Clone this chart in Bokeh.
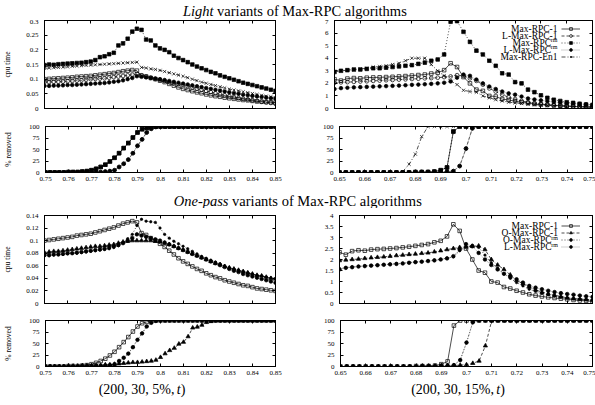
from bokeh.plotting import figure
from bokeh.models import (Range1d, FixedTicker, LinearAxis, CustomJSTickFormatter,
                          Legend, LegendItem, Label)
from bokeh.layouts import column, row
from bokeh.embed import file_html
from bokeh.resources import INLINE

FONT = "Liberation Serif"

# ---------------- data ----------------
t_5 = [round(0.75 + 0.002 * i, 4) for i in range(51)]
t_15 = [round(0.65 + 0.0025 * k, 4) for k in range(41)]

x_ticks_5 = [0.75, 0.76, 0.77, 0.78, 0.79, 0.80, 0.81, 0.82, 0.83, 0.84, 0.85]
x_ticks_15 = [0.65, 0.66, 0.67, 0.68, 0.69, 0.70, 0.71, 0.72, 0.73, 0.74, 0.75]
y_ticks_light5 = [0, 0.05, 0.1, 0.15, 0.2, 0.25, 0.3]
y_ticks_light15 = [0, 1, 2, 3, 4, 5, 6, 7]
y_ticks_one5 = [0, 0.02, 0.04, 0.06, 0.08, 0.1, 0.12, 0.14]
y_ticks_one15 = [0, 0.5, 1, 1.5, 2, 2.5, 3, 3.5, 4]
y_ticks_pct = [0, 25, 50, 75, 100]

# cpu time, (200,30,5%,t)
max1_5 = [0.100, 0.101, 0.102, 0.103, 0.104, 0.105, 0.106, 0.108, 0.109, 0.110, 0.111,
          0.113, 0.115, 0.117, 0.119, 0.121, 0.124, 0.127, 0.129, 0.131, 0.129,
          0.112, 0.109, 0.104, 0.100, 0.095, 0.090, 0.084, 0.078, 0.072, 0.067,
          0.063, 0.059, 0.055, 0.052, 0.048, 0.045, 0.042, 0.040, 0.037, 0.035,
          0.033, 0.031, 0.029, 0.028, 0.026, 0.024, 0.023, 0.022, 0.021, 0.020]
l1_5 = [0.090, 0.090, 0.091, 0.091, 0.092, 0.093, 0.094, 0.095, 0.096, 0.098, 0.100,
        0.101, 0.102, 0.103, 0.105, 0.107, 0.109, 0.111, 0.113, 0.115, 0.118,
        0.113, 0.109, 0.105, 0.101, 0.097, 0.094, 0.090, 0.087, 0.083, 0.080,
        0.076, 0.072, 0.068, 0.064, 0.060, 0.056, 0.052, 0.049, 0.045, 0.042,
        0.039, 0.036, 0.033, 0.031, 0.028, 0.026, 0.023, 0.021, 0.019, 0.016]
rm_5 = [0.148, 0.150, 0.149, 0.151, 0.152, 0.153, 0.154, 0.155, 0.156, 0.158, 0.160,
        0.165, 0.175, 0.178, 0.185, 0.190, 0.215, 0.222, 0.238, 0.262, 0.272,
        0.268, 0.235, 0.232, 0.215, 0.205, 0.200, 0.192, 0.180, 0.172, 0.165,
        0.158, 0.150, 0.143, 0.137, 0.131, 0.125, 0.120, 0.113, 0.108, 0.103,
        0.098, 0.093, 0.088, 0.084, 0.080, 0.076, 0.072, 0.068, 0.064, 0.060]
lrm_5 = [0.077, 0.077, 0.078, 0.078, 0.079, 0.080, 0.080, 0.081, 0.082, 0.083, 0.084,
         0.085, 0.086, 0.087, 0.089, 0.091, 0.093, 0.096, 0.100, 0.104, 0.110,
         0.108, 0.106, 0.104, 0.102, 0.100, 0.097, 0.094, 0.091, 0.088, 0.085,
         0.082, 0.079, 0.076, 0.073, 0.070, 0.067, 0.064, 0.061, 0.058, 0.055,
         0.052, 0.050, 0.047, 0.045, 0.043, 0.041, 0.039, 0.037, 0.035, 0.033]
en1_5 = [0.137, 0.138, 0.139, 0.140, 0.141, 0.142, 0.144, 0.145, 0.146, 0.147, 0.148,
         0.149, 0.150, 0.151, 0.152, 0.153, 0.154, 0.155, 0.156, 0.157, 0.158,
         0.140, 0.138, 0.135, 0.133, 0.130, 0.126, 0.122, 0.118, 0.114, 0.110,
         0.105, 0.100, 0.095, 0.090, 0.086, 0.082, 0.078, 0.074, 0.070, 0.066,
         0.063, 0.060, 0.057, 0.054, 0.051, 0.048, 0.045, 0.042, 0.040, 0.037]
o1_5 = [0.081, 0.082, 0.083, 0.083, 0.084, 0.085, 0.086, 0.087, 0.088, 0.089, 0.090,
        0.091, 0.091, 0.092, 0.093, 0.094, 0.096, 0.098, 0.099, 0.100, 0.100,
        0.100, 0.100, 0.100, 0.099, 0.098, 0.096, 0.094, 0.091, 0.088, 0.085,
        0.082, 0.079, 0.076, 0.073, 0.070, 0.067, 0.064, 0.062, 0.059, 0.057,
        0.055, 0.053, 0.051, 0.049, 0.047, 0.045, 0.044, 0.042, 0.040, 0.039]
orm_5 = [0.076, 0.076, 0.077, 0.078, 0.078, 0.079, 0.080, 0.080, 0.081, 0.082, 0.083,
         0.084, 0.085, 0.086, 0.087, 0.089, 0.092, 0.097, 0.103, 0.110, 0.124,
         0.134, 0.131, 0.130, 0.129, 0.120, 0.110, 0.104, 0.099, 0.095, 0.091,
         0.087, 0.083, 0.079, 0.075, 0.072, 0.069, 0.066, 0.063, 0.060, 0.057,
         0.055, 0.053, 0.051, 0.049, 0.047, 0.045, 0.044, 0.042, 0.041, 0.040]

# % removed, (200,30,5%,t)
pct_max_5 = [0, 0, 0, 0, 0, 1, 1, 1, 2, 3, 5,
             8, 12, 17, 24, 32, 42, 53, 64, 76, 87,
             94, 97, 99, 100, 100, 100, 100, 100, 100, 100,
             100, 100, 100, 100, 100, 100, 100, 100, 100, 100,
             100, 100, 100, 100, 100, 100, 100, 100, 100, 100]
pct_light_5 = [0, 0, 0, 0, 0, 0, 0, 0, 1, 1, 1,
               1, 1, 2, 3, 5, 12, 19, 28, 42, 58,
               72, 87, 95, 99, 100, 100, 100, 100, 100, 100,
               100, 100, 100, 100, 100, 100, 100, 100, 100, 100,
               100, 100, 100, 100, 100, 100, 100, 100, 100, 100]
pct_o1_5 = [0, 0, 0, 0, 0, 1, 1, 1, 2, 2, 2,
            3, 3, 4, 4, 5, 6, 7, 8, 9, 9,
            10, 11, 12, 14, 20, 28, 35, 40, 49, 53,
            65, 84, 86, 90, 96, 98, 100, 100, 100, 100,
            100, 100, 100, 100, 100, 100, 100, 100, 100, 100]

# cpu time, (200,30,15%,t)
max1_15 = [2.33, 2.22, 2.38, 2.42, 2.40, 2.45, 2.47, 2.48, 2.50, 2.52, 2.55,
           2.58, 2.62, 2.66, 2.70, 2.78, 2.85, 3.05, 3.60, 3.30, 2.50,
           2.00, 1.50, 1.40, 1.00, 0.95, 0.75, 0.68, 0.58, 0.50, 0.42,
           0.36, 0.32, 0.28, 0.25, 0.22, 0.19, 0.16, 0.14, 0.12, 0.10]
l1_15 = [2.05, 2.08, 2.10, 2.12, 2.15, 2.17, 2.20, 2.22, 2.25, 2.27, 2.30,
         2.32, 2.35, 2.37, 2.40, 2.42, 2.45, 2.50, 2.55, 2.65, 2.60,
         2.40, 2.20, 1.90, 1.60, 1.35, 1.10, 0.90, 0.75, 0.60, 0.50,
         0.42, 0.36, 0.30, 0.26, 0.22, 0.20, 0.17, 0.15, 0.13, 0.12]
rm_15 = [2.90, 3.00, 3.05, 3.10, 3.10, 3.15, 3.20, 3.20, 3.25, 3.30, 3.35,
         3.40, 3.45, 3.55, 3.65, 3.80, 3.90, 4.30, 6.90, 6.95, 6.10,
         5.30, 4.60, 4.30, 3.80, 3.40, 2.80, 2.70, 2.10, 2.00, 1.50,
         1.30, 1.05, 0.85, 0.70, 0.60, 0.50, 0.45, 0.38, 0.32, 0.28]
lrm_15 = [1.55, 1.62, 1.65, 1.68, 1.70, 1.72, 1.74, 1.76, 1.78, 1.80, 1.82,
          1.85, 1.88, 1.90, 1.93, 1.96, 2.00, 2.05, 2.15, 2.45, 2.70,
          2.60, 2.30, 2.00, 1.75, 1.55, 1.35, 1.20, 1.10, 0.95, 0.80,
          0.72, 0.65, 0.58, 0.52, 0.47, 0.43, 0.40, 0.36, 0.33, 0.30]
en1_15 = [2.95, 3.00, 3.05, 3.10, 3.15, 3.20, 3.30, 3.35, 3.40, 3.50, 3.60,
          3.80, 4.00, 4.00, 4.00, 3.50, 3.00, 2.60, 2.20, 1.90, 1.45,
          1.35, 1.30, 1.00, 0.85, 0.70, 0.60, 0.50, 0.45, 0.40, 0.35,
          0.30, 0.28, 0.25, 0.22, 0.20, 0.18, 0.16, 0.15, 0.13, 0.12]
o1_15 = [1.95, 1.98, 2.00, 2.02, 2.05, 2.08, 2.10, 2.12, 2.15, 2.18, 2.20,
         2.23, 2.25, 2.28, 2.30, 2.35, 2.40, 2.45, 2.50, 2.55, 2.57,
         2.60, 2.62, 2.45, 2.00, 1.75, 1.55, 1.30, 1.05, 0.90, 0.75,
         0.62, 0.52, 0.45, 0.38, 0.32, 0.27, 0.23, 0.20, 0.18, 0.16]
orm_15 = [1.58, 1.63, 1.66, 1.69, 1.71, 1.73, 1.75, 1.77, 1.79, 1.81, 1.83,
          1.86, 1.89, 1.91, 1.94, 1.97, 2.01, 2.06, 2.12, 2.40, 2.58,
          2.65, 2.55, 2.20, 1.85, 1.60, 1.35, 1.15, 0.95, 0.80, 0.65,
          0.55, 0.47, 0.40, 0.34, 0.29, 0.25, 0.22, 0.20, 0.18, 0.16]

# % removed, (200,30,15%,t)
pct_max_15 = [0, 0, 0, 0, 0, 0, 0, 0, 0, 0, 0,
              0, 1, 1, 1, 2, 5, 11, 89, 100, 100,
              100, 100, 100, 100, 100, 100, 100, 100, 100, 100,
              100, 100, 100, 100, 100, 100, 100, 100, 100, 100]
pct_en1_15 = [0, 0, 0, 0, 0, 0, 0, 0, 0, 0, 2,
              18, 40, 78, 100, 100, 100, 100, 100, 100, 100,
              100, 100, 100, 100, 100, 100, 100, 100, 100, 100,
              100, 100, 100, 100, 100, 100, 100, 100, 100, 100]
pct_light_15 = [0, 0, 0, 0, 0, 0, 0, 0, 0, 0, 0,
                0, 0, 1, 1, 1, 2, 2, 3, 14, 52,
                96, 100, 100, 100, 100, 100, 100, 100, 100, 100,
                100, 100, 100, 100, 100, 100, 100, 100, 100, 100]
pct_o1_15 = [0, 0, 0, 0, 0, 0, 0, 0, 0, 0, 0,
             0, 0, 1, 1, 1, 1, 2, 2, 3, 4,
             7, 12, 45, 100, 100, 100, 100, 100, 100, 100,
             100, 100, 100, 100, 100, 100, 100, 100, 100, 100]

# ---------------- styles ----------------
STYLE = {
    "Max-RPC-1":    dict(marker="square", size=3.6, fill=None, dash="solid", lc="black"),
    "L-Max-RPC-1":  dict(marker="circle", size=3.8, fill=None, dash="3 2", lc="black"),
    "Max-RPC^rm":   dict(marker="square", size=3.6, fill="black", dash="1 2", lc="black"),
    "L-Max-RPC^rm": dict(marker="circle", size=3.6, fill="black", dash="1 1", lc="#777777"),
    "Max-RPC-En1":  dict(marker="x", size=4.5, fill=None, dash="4 2 1 2", lc="black"),
    "O-Max-RPC-1":  dict(marker="triangle", size=4.2, fill="black", dash="3 2", lc="black"),
    "O-Max-RPC^rm": dict(marker="circle", size=2.4, fill="black", dash="1 2", lc="black"),
}

FMT = "return String(Number(tick.toFixed(3)));"


def style_axis(ax, labels=True, standoff=4):
    ax.axis_line_color = "black"
    ax.axis_line_width = 1
    ax.major_tick_line_color = "black"
    ax.major_tick_in = 3
    ax.major_tick_out = 0
    ax.minor_tick_line_color = None
    ax.major_label_text_font = FONT
    ax.major_label_text_font_size = "7px"
    ax.major_label_text_color = "black"
    ax.major_label_standoff = standoff
    ax.formatter = CustomJSTickFormatter(code=FMT if labels else "return '';")


def panel(xr, yr, xt, yt, w, h, bl, br, bt, bb, xlabels, ylabel=None, al_standoff=10):
    p = figure(width=w, height=h, x_range=Range1d(*xr), y_range=Range1d(*yr),
               output_backend="svg", toolbar_location=None,
               min_border_left=bl, min_border_right=br,
               min_border_top=bt, min_border_bottom=bb)
    p.grid.visible = False
    p.outline_line_color = "black"
    p.outline_line_width = 1
    p.background_fill_color = "white"
    p.border_fill_color = "white"
    xa = p.below[0]
    ya = p.left[0]
    style_axis(xa, labels=xlabels, standoff=4 if xlabels else 0)
    xa.ticker = FixedTicker(ticks=xt)
    style_axis(ya, labels=True, standoff=6)
    ya.ticker = FixedTicker(ticks=yt)
    if ylabel:
        ya.axis_label = ylabel
        ya.axis_label_text_font = FONT
        ya.axis_label_text_font_size = "7.5px"
        ya.axis_label_text_font_style = "normal"
        ya.axis_label_text_color = "black"
        ya.axis_label_standoff = al_standoff
    top = LinearAxis(ticker=FixedTicker(ticks=xt))
    style_axis(top, labels=False, standoff=0)
    right = LinearAxis(ticker=FixedTicker(ticks=yt))
    style_axis(right, labels=False, standoff=0)
    p.add_layout(top, "above")
    p.add_layout(right, "right")
    return p


def draw(p, x, y, key):
    s = STYLE[key]
    lr = p.line(x, y, line_color=s["lc"], line_width=0.7, line_dash=s["dash"])
    sr = p.scatter(x, y, marker=s["marker"], size=s["size"], line_color="black",
                   line_width=0.7, fill_color=s["fill"])
    return [lr, sr]


def add_legend(p, entries, rends, vx, vy, text_x, first_y):
    items = [LegendItem(label="", renderers=r) for r in rends]
    leg = Legend(items=items, location=(vx, vy), glyph_width=19, glyph_height=7,
                 label_width=0, label_height=7, label_standoff=0, padding=0,
                 spacing=0, margin=0, border_line_color=None,
                 background_fill_alpha=0, label_text_font_size="1px")
    p.add_layout(leg)
    for n, (main, sup) in enumerate(entries):
        y = first_y - 7 * n
        if sup:
            p.add_layout(Label(x=text_x - 6.5, y=y, x_units="screen", y_units="screen",
                               text=main, text_align="right", text_baseline="middle",
                               text_font=FONT, text_font_size="9.5px", text_color="black"))
            p.add_layout(Label(x=text_x, y=y + 2.5, x_units="screen", y_units="screen",
                               text=sup, text_align="right", text_baseline="middle",
                               text_font=FONT, text_font_size="6px", text_color="black"))
        else:
            p.add_layout(Label(x=text_x, y=y, x_units="screen", y_units="screen",
                               text=main, text_align="right", text_baseline="middle",
                               text_font=FONT, text_font_size="9.5px", text_color="black"))


def blank(h):
    p = figure(width=595, height=h, x_range=Range1d(0, 595), y_range=Range1d(0, h),
               output_backend="svg", toolbar_location=None,
               min_border_left=0, min_border_right=0, min_border_top=0, min_border_bottom=0,
               x_axis_location=None, y_axis_location=None)
    p.grid.visible = False
    p.outline_line_color = None
    p.background_fill_color = "white"
    p.border_fill_color = "white"
    return p


def lab(p, x, y, text, align, size, style="normal"):
    p.add_layout(Label(x=x, y=y, text=text, text_align=align, text_baseline="alphabetic",
                       text_font=FONT, text_font_size=size, text_font_style=style,
                       text_color="black"))


# ---------------- titles ----------------
title1 = blank(19)
lab(title1, 213, 8.5, "Light", "right", "14.5px", "italic")
lab(title1, 216.6, 8.5, "variants of Max-RPC algorithms", "left", "14.5px")

title2 = blank(22)
lab(title2, 228, 8, "One-pass", "right", "14.5px", "italic")
lab(title2, 231.6, 8, "variants of Max-RPC algorithms", "left", "14.5px")

bottom = blank(25)
for cx, pc in ((141.5, "5%"), (457.5, "15%")):
    extra = 7 if pc == "15%" else 0
    lab(bottom, cx - 43.4 + 75.9 + extra / 2, 16, "(200, 30, %s," % pc, "right", "14px")
    lab(bottom, cx - 43.4 + 78.2 + extra / 2, 16, "t", "left", "14px", "italic")
    lab(bottom, cx - 43.4 + 82.1 + extra / 2, 16, ")", "left", "14px")

# ---------------- Light variants ----------------
tl = panel((0.75, 0.85), (0, 0.3), x_ticks_5, y_ticks_light5, 295, 98, 40, 20, 1, 9,
           False, "cpu time", 11)
for y, k in ((max1_5, "Max-RPC-1"), (l1_5, "L-Max-RPC-1"), (rm_5, "Max-RPC^rm"),
             (lrm_5, "L-Max-RPC^rm"), (en1_5, "Max-RPC-En1")):
    draw(tl, t_5, y, k)

tr = panel((0.65, 0.75), (0, 7), x_ticks_15, y_ticks_light15, 300, 98, 39, 3, 1, 9, False)
rr = []
for y, k in ((max1_15, "Max-RPC-1"), (l1_15, "L-Max-RPC-1"), (rm_15, "Max-RPC^rm"),
             (lrm_15, "L-Max-RPC^rm"), (en1_15, "Max-RPC-En1")):
    rr.append(draw(tr, t_15, y, k))
add_legend(tr, [("Max-RPC-1", None), ("L-Max-RPC-1", None), ("Max-RPC", "rm"),
                ("L-Max-RPC", "rm"), ("Max-RPC-En1", None)],
           rr, 227, 48.2, 223, 79.7)

tlp = panel((0.75, 0.85), (0, 100), x_ticks_5, y_ticks_pct, 295, 69, 40, 20, 9, 14,
            True, "% removed", 13)
for y, k in ((pct_max_5, "Max-RPC-1"), (pct_light_5, "L-Max-RPC-1"), (pct_max_5, "Max-RPC^rm"),
             (pct_light_5, "L-Max-RPC^rm"), (pct_max_5, "Max-RPC-En1")):
    draw(tlp, t_5, y, k)

trp = panel((0.65, 0.75), (0, 100), x_ticks_15, y_ticks_pct, 300, 69, 44, 3, 9, 14, True)
for y, k in ((pct_max_15, "Max-RPC-1"), (pct_light_15, "L-Max-RPC-1"), (pct_max_15, "Max-RPC^rm"),
             (pct_light_15, "L-Max-RPC^rm"), (pct_en1_15, "Max-RPC-En1")):
    draw(trp, t_15, y, k)

# ---------------- One-pass variants ----------------
bl_ = panel((0.75, 0.85), (0, 0.14), x_ticks_5, y_ticks_one5, 295, 104, 40, 20, 7, 9,
            False, "cpu time", 11)
for y, k in ((max1_5, "Max-RPC-1"), (o1_5, "O-Max-RPC-1"), (orm_5, "O-Max-RPC^rm"),
             (lrm_5, "L-Max-RPC^rm")):
    draw(bl_, t_5, y, k)

br_ = panel((0.65, 0.75), (0, 4), x_ticks_15, y_ticks_one15, 300, 104, 44, 3, 7, 9, False)
rb = []
for y, k in ((max1_15, "Max-RPC-1"), (o1_15, "O-Max-RPC-1"), (orm_15, "O-Max-RPC^rm"),
             (lrm_15, "L-Max-RPC^rm")):
    rb.append(draw(br_, t_15, y, k))
add_legend(br_, [("Max-RPC-1", None), ("O-Max-RPC-1", None), ("O-Max-RPC", "rm"),
                 ("L-Max-RPC", "rm")],
           rb, 222, 53, 218.5, 77.5)

blp = panel((0.75, 0.85), (0, 100), x_ticks_5, y_ticks_pct, 295, 68, 40, 20, 8, 14,
            True, "% removed", 13)
for y, k in ((pct_max_5, "Max-RPC-1"), (pct_o1_5, "O-Max-RPC-1"), (pct_light_5, "O-Max-RPC^rm"),
             (pct_light_5, "L-Max-RPC^rm")):
    draw(blp, t_5, y, k)

brp = panel((0.65, 0.75), (0, 100), x_ticks_15, y_ticks_pct, 300, 68, 45, 3, 8, 14, True)
for y, k in ((pct_max_15, "Max-RPC-1"), (pct_o1_15, "O-Max-RPC-1"), (pct_light_15, "O-Max-RPC^rm"),
             (pct_light_15, "L-Max-RPC^rm")):
    draw(brp, t_15, y, k)

layout = column(title1, row(tl, tr), row(tlp, trp), title2, row(bl_, br_), row(blp, brp), bottom,
                spacing=0)

open("out.html", "w").write(file_html(layout, INLINE))
